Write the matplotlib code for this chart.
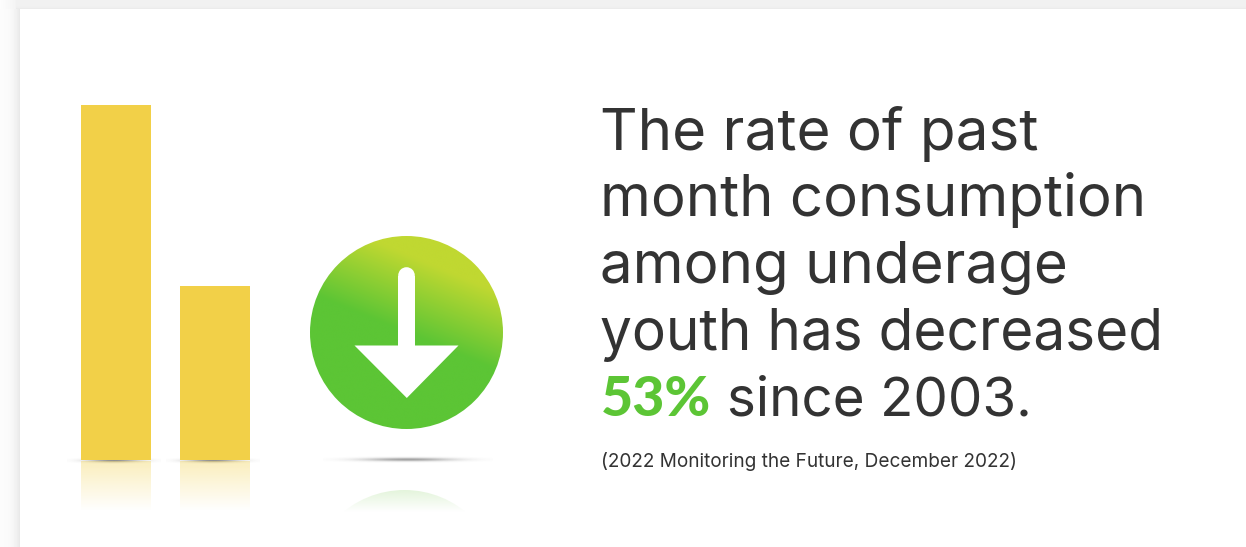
import numpy as np
import matplotlib.pyplot as plt
from matplotlib.colors import to_rgb
from matplotlib.patches import Circle, Polygon, Rectangle

W, H = 1246, 547

bar_positions = [0, 1]
bar_values = [100, 49]
text_lines = ["The rate of past", "month consumption", "among underage", "youth has decreased"]
highlight = "53%"
last_line = "since 2003."
source = "(2022 Monitoring the Future, December 2022)"

YELLOW = "#f2d048"
DARK = "#333333"
GREEN = "#5cc535"
LIME = "#c0d831"
FONT = "Inter"
BASE_Y = 460


def fade_image(ax, extent, color, start_alpha, zorder=1):
    # vertical fade from start_alpha down to nothing
    x0, x1, y0, y1 = extent
    img = np.ones((64, 2, 4))
    img[..., :3] = to_rgb(color)
    img[..., 3] = np.linspace(start_alpha, 0, 64)[:, None]
    return ax.imshow(img, extent=(x0, x1, y1, y0), aspect="auto", zorder=zorder)


def soft_shadow(ax, cx, cy, half_w, half_h, strength):
    xs = np.linspace(-1, 1, 200)
    ys = np.linspace(-1, 1, 30)
    xx, yy = np.meshgrid(xs, ys)
    img = np.zeros((30, 200, 4))
    img[..., :3] = 0.25
    img[..., 3] = strength * np.exp(-(xx * 1.9) ** 2 - (yy * 2.0) ** 2)
    ax.imshow(img, extent=(cx - half_w, cx + half_w, cy + half_h, cy - half_h), aspect="auto", zorder=1)


fig = plt.figure(figsize=(W / 100, H / 100), dpi=100)
ax = fig.add_axes([0, 0, 1, 1])

# card background with a soft grey frame on top and left
yy, xx = np.mgrid[0:H, 0:W]
left = np.clip(xx / 20.0, 0, 1)
top = np.clip(yy / 9.0, 0, 1)
grey = np.where(yy < 9, 0.945 - 0.05 * top ** 6, 0.985 - 0.085 * left ** 3)
corner = (xx < 16) & (yy < 9)
grey = np.where(corner, np.maximum(grey, 0.99 - 0.045 * left), grey)
grey = np.where((xx >= 20) & (yy >= 9), 1.0, grey)
ax.imshow(grey, extent=(0, W, H, 0), aspect="auto", cmap="gray", vmin=0, vmax=1, zorder=0)

# bars share the baseline at BASE_Y
bar_ax = fig.add_axes([80.7 / W, 1 - BASE_Y / H, 169.6 / W, 355 / H], zorder=3)
bar_ax.bar(bar_positions, bar_values, width=0.7, color=YELLOW)
bar_ax.set_xlim(-0.35, 1.35)
bar_ax.set_ylim(0, 100)
bar_ax.axis("off")

# shadows under the bars and the circle
soft_shadow(ax, 114, 460.3, 47, 3.5, 0.6)
soft_shadow(ax, 213, 460.3, 47, 3.5, 0.6)
soft_shadow(ax, 407.5, 459.3, 85, 3.5, 0.5)

# reflections
fade_image(ax, (80.7, 150.3, 461, 511), YELLOW, 0.36)
fade_image(ax, (180.3, 250.3, 461, 511), YELLOW, 0.36)
refl = fade_image(ax, (300, 515, 490, 512), "#bfe6ab", 0.42)
refl.set_clip_path(Circle((404.5, 586.5), 96.5, transform=ax.transData))

# gradient disc
gx, gy = np.meshgrid(np.linspace(-1, 1, 400), np.linspace(-1, 1, 400))
t = np.clip((gx * 0.38 - gy * 0.92) / 0.75, 0, 1)
disc = (1 - t[..., None]) * np.array(to_rgb(GREEN)) + t[..., None] * np.array(to_rgb(LIME))
cx, cy, r = 406.5, 332.5, 96.5
im = ax.imshow(disc, extent=(cx - r, cx + r, cy + r, cy - r), aspect="auto", zorder=2)
im.set_clip_path(Circle((cx, cy), r, transform=ax.transData))

# white arrow
ax.add_patch(Rectangle((398.2, 276), 16.6, 90, fc="white", ec="none", zorder=3))
ax.add_patch(Circle((406.5, 275.5), 8.3, fc="white", ec="none", zorder=3))
ax.add_patch(Polygon([(354.5, 345.5), (458.5, 345.5), (406.8, 398)], fc="white", ec="none", zorder=3))

ax.set_xlim(0, W)
ax.set_ylim(H, 0)
ax.axis("off")

# headline
TEXT_X = 600
LINE_Y = [150, 216, 283, 350]
LINE_SIZES = [42, 41.8, 41.9, 40.9]
for line, y, size in zip(text_lines, LINE_Y, LINE_SIZES):
    ax.text(TEXT_X, y, line, fontsize=size, color=DARK, family=FONT, va="baseline", ha="left", zorder=4)

ax.text(TEXT_X + 1, 416, highlight, fontsize=40, color=GREEN, family="Lato", fontweight="black",
        va="baseline", ha="left", zorder=4)
ax.text(727, 416, last_line, fontsize=39.4, color=DARK, family=FONT, va="baseline", ha="left", zorder=4)

ax.text(TEXT_X + 1, 467, source, fontsize=13.7, color=DARK, family=FONT, va="baseline", ha="left", zorder=4)

fig.savefig("out.png", dpi=100)
